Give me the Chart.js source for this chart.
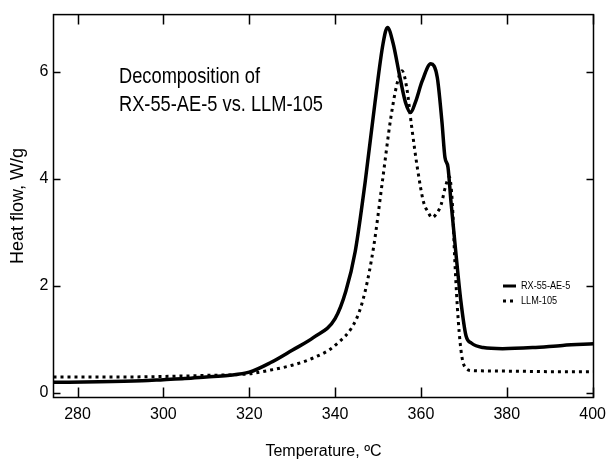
<!DOCTYPE html>
<html>
<head>
<meta charset="utf-8">
<script src="https://cdn.jsdelivr.net/npm/chart.js@4"></script>
<style>
  body { margin: 0; background: #fff; }
</style>
</head>
<body>
<canvas id="dscChart" width="613" height="465"></canvas>
<script>
// RX-55-AE-5 (solid)
const tempRX = [274.4, 285, 295, 300, 305, 310, 315, 320, 325, 330, 335, 340, 342.5, 344.7, 347, 349.3, 351.2, 352.2,
  353.5, 355.1, 356.4, 357.6, 358.7, 360.3, 362.3, 363.8, 364.9, 365.6, 366.3, 367, 368.1, 369.3, 370.5, 371.8,
  374.5, 379, 386, 393, 400.2];
const flowRX = [0.2, 0.21, 0.23, 0.25, 0.27, 0.3, 0.33, 0.39, 0.57, 0.8, 1.04, 1.39, 1.9, 2.65, 3.94, 5.43, 6.54, 6.83,
  6.54, 5.9, 5.43, 5.24, 5.43, 5.83, 6.15, 5.9, 5.06, 4.4, 4.22, 3.57, 2.65, 1.72, 1.07, 0.93,
  0.85, 0.83, 0.85, 0.89, 0.92];

// LLM-105 (dotted)
const tempLLM = [274.4, 290, 300, 310, 320, 325, 330, 335, 340, 345, 347, 349, 351, 353, 354.5, 355.6, 356.7,
  357.8, 359.2, 360.6, 361.6, 362.6, 363.6, 364.7, 365.7, 366.6, 367.3, 367.9, 368.7, 369.5, 370.5, 372,
  380, 390, 400.2];
const flowLLM = [0.3, 0.3, 0.31, 0.33, 0.36, 0.43, 0.52, 0.66, 0.89, 1.39, 1.9, 2.74, 3.94, 5.15, 5.8, 6.02, 5.7,
  5.0, 4.19, 3.57, 3.39, 3.28, 3.35, 3.52, 3.85, 4.04, 3.57, 2.46, 1.35, 0.7, 0.46, 0.42,
  0.41, 0.4, 0.4];

const seriesNames = ["RX-55-AE-5", "LLM-105"];
const xTicks = [280, 300, 320, 340, 360, 380, 400];
const yTicks = [0, 2, 4, 6];
const noteLines = ["Decomposition of", "RX-55-AE-5 vs. LLM-105"];

const sans = "'Liberation Sans', Arial, sans-serif";

function toPoints(xs, ys) {
  return xs.map((x, i) => ({ x: x, y: ys[i] }));
}

// squeezed text, to look like the narrow face of the original
function narrowText(ctx, text, x, y, squeeze) {
  ctx.save();
  ctx.translate(x, y);
  ctx.scale(squeeze, 1);
  ctx.fillText(text, 0, 0);
  ctx.restore();
}

// frame, inward ticks, note text and legend
const decorations = {
  id: "decorations",
  afterDraw(chart) {
    const ctx = chart.ctx;
    const ca = chart.chartArea;
    const xs = chart.scales.x;
    const ys = chart.scales.y;
    ctx.save();
    ctx.strokeStyle = "#000";
    ctx.lineWidth = 1.5;
    ctx.strokeRect(ca.left, ca.top, ca.right - ca.left, ca.bottom - ca.top);
    ctx.beginPath();
    xTicks.forEach(t => {
      const px = Math.round(xs.getPixelForValue(t)) + 0.5;
      ctx.moveTo(px, ca.bottom); ctx.lineTo(px, ca.bottom - 10);
      ctx.moveTo(px, ca.top); ctx.lineTo(px, ca.top + 10);
    });
    yTicks.forEach(t => {
      const py = Math.round(ys.getPixelForValue(t)) + 0.5;
      ctx.moveTo(ca.left, py); ctx.lineTo(ca.left + 7, py);
      ctx.moveTo(ca.right, py); ctx.lineTo(ca.right - 7, py);
    });
    ctx.stroke();

    // annotation
    ctx.fillStyle = "#000";
    ctx.font = "22px " + sans;
    ctx.textBaseline = "middle";
    ctx.textAlign = "left";
    narrowText(ctx, noteLines[0], 119, 77, 0.83);
    narrowText(ctx, noteLines[1], 119, 105, 0.83);

    // legend
    ctx.font = "11px " + sans;
    ctx.lineWidth = 3;
    ctx.beginPath();
    ctx.moveTo(503, 286); ctx.lineTo(516, 286);
    ctx.stroke();
    ctx.setLineDash([3, 4]);
    ctx.beginPath();
    ctx.moveTo(503, 301); ctx.lineTo(516, 301);
    ctx.stroke();
    ctx.setLineDash([]);
    narrowText(ctx, seriesNames[0], 521, 286, 0.83);
    narrowText(ctx, seriesNames[1], 521, 301, 0.83);
    ctx.restore();
  }
};

new Chart(document.getElementById("dscChart").getContext("2d"), {
  type: "line",
  data: {
    datasets: [
      {
        label: seriesNames[0],
        data: toPoints(tempRX, flowRX),
        borderColor: "#000",
        borderWidth: 3.5,
        pointRadius: 0,
        fill: false,
        cubicInterpolationMode: "monotone"
      },
      {
        label: seriesNames[1],
        data: toPoints(tempLLM, flowLLM),
        borderColor: "#000",
        borderWidth: 3,
        borderDash: [3, 4],
        pointRadius: 0,
        fill: false,
        cubicInterpolationMode: "monotone"
      }
    ]
  },
  options: {
    responsive: false,
    animation: false,
    layout: { padding: { top: 11, right: 11, bottom: 0, left: 0 } },
    plugins: { legend: { display: false }, tooltip: { enabled: false } },
    scales: {
      x: {
        type: "linear",
        min: 274.4,
        max: 400.2,
        afterBuildTicks: s => { s.ticks = xTicks.map(v => ({ value: v })); },
        afterFit: s => { s.height = 67.5; },
        grid: { display: false, drawTicks: false },
        border: { display: false },
        ticks: { color: "#000", padding: 7, font: { family: sans, size: 16 } },
        title: {
          display: true,
          text: "Temperature, ºC",
          color: "#000",
          font: { family: sans, size: 16 },
          padding: { top: 0, bottom: 4 }
        }
      },
      y: {
        min: -0.083,
        max: 7.07,
        afterBuildTicks: s => { s.ticks = yTicks.map(v => ({ value: v })); },
        afterFit: s => { s.width = 53.5; },
        grid: { display: false, drawTicks: false },
        border: { display: false },
        ticks: { color: "#000", padding: 5, font: { family: sans, size: 16 } },
        title: {
          display: true,
          text: "Heat flow, W/g",
          color: "#000",
          font: { family: sans, size: 18 },
          padding: { top: 7, bottom: 0 }
        }
      }
    }
  },
  plugins: [decorations]
});
</script>
</body>
</html>
